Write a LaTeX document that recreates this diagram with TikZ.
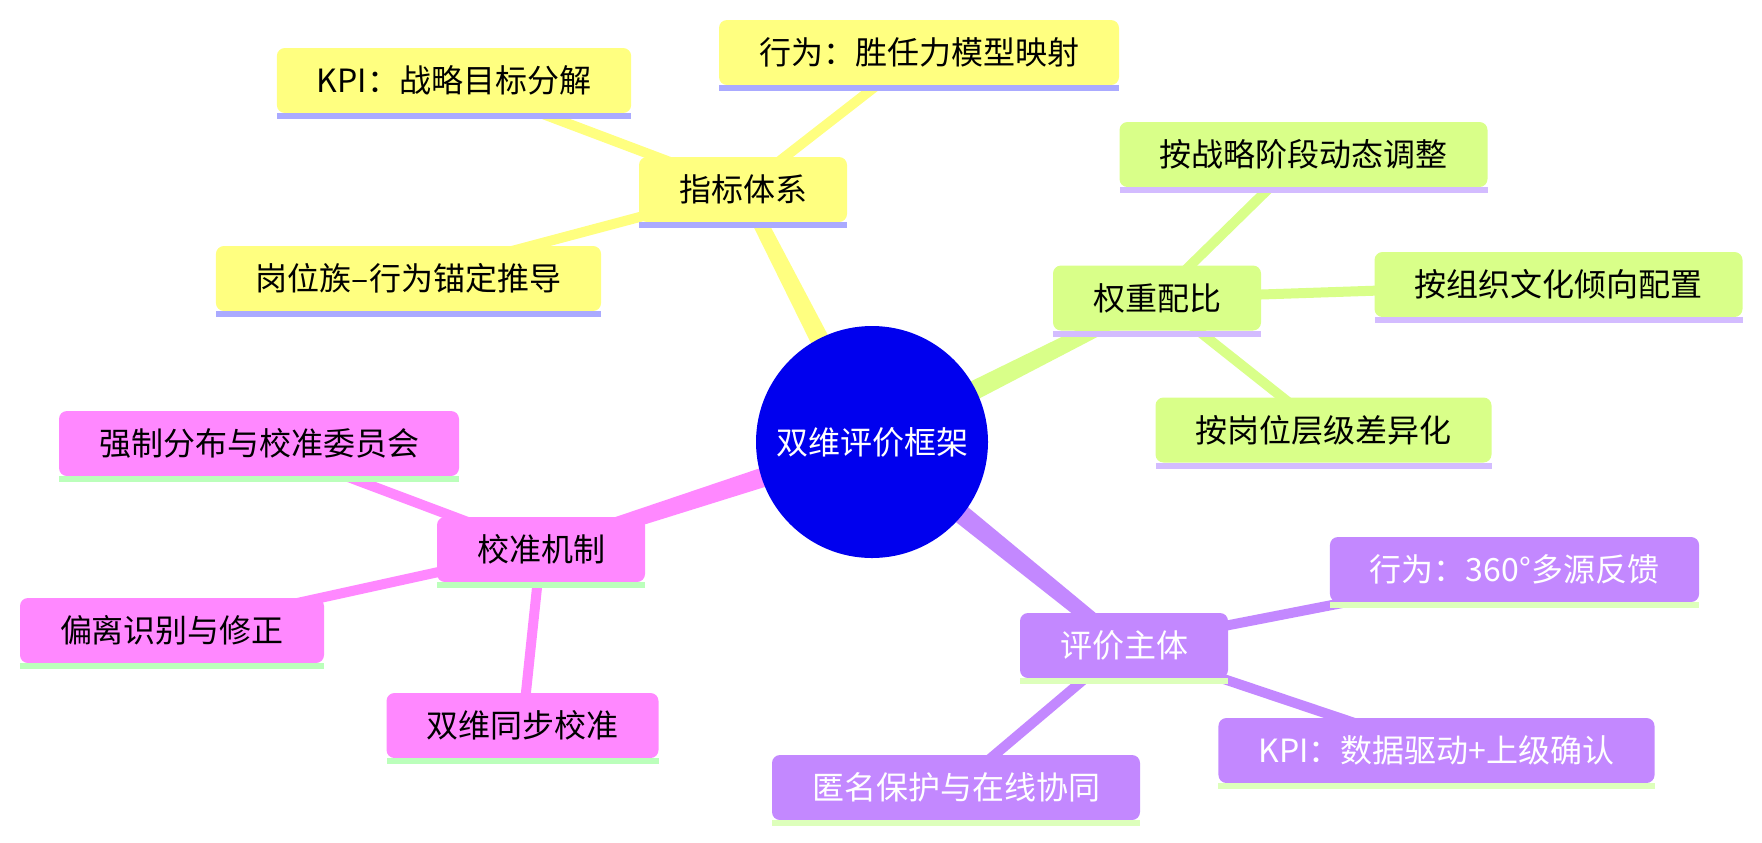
\documentclass[tikz,border=0pt]{standalone}
\usepackage{fontspec}
\setmainfont{Noto Sans CJK SC}
\usetikzlibrary{calc}
\pgfdeclarelayer{bg}
\pgfsetlayers{bg,main}
\definecolor{yelbox}{HTML}{FFFF80}
\definecolor{yelbar}{HTML}{AAAAFF}
\definecolor{grnbox}{HTML}{D9FF89}
\definecolor{grnbar}{HTML}{D3BCFF}
\definecolor{pnkbox}{HTML}{FF88FF}
\definecolor{pnkbar}{HTML}{BBFFBB}
\definecolor{purbox}{HTML}{C388FF}
\definecolor{purbar}{HTML}{DDFFBB}
\definecolor{rootblue}{HTML}{0000EE}
\newcommand\taperline[3]{%
  \fill[#3] ($(#1.center)!5.5pt!90:(#2.center)$) -- ($(#2.center)!3.5pt!-90:(#1.center)$)
    -- ($(#2.center)!3.5pt!90:(#1.center)$) -- ($(#1.center)!5.5pt!-90:(#2.center)$) -- cycle;}
\newcommand\barunder[2]{%
  \fill[#2] (#1.south west) rectangle ([yshift=-3pt]#1.south east);}
\begin{document}
\begin{tikzpicture}[x=0.5pt,y=-0.5pt,
  box/.style={rounded corners=4pt, inner xsep=20pt, inner ysep=0pt,
    minimum height=32.5pt, outer sep=0pt, draw=none,
    font=\fontsize{16pt}{19pt}\selectfont},
  ybox/.style={box, fill=yelbox, text=black},
  gbox/.style={box, fill=grnbox, text=black},
  pbox/.style={box, fill=pnkbox, text=black},
  vbox/.style={box, fill=purbox, text=white},
  sub/.style={line width=5pt}]
\useasboundingbox (0,0) rectangle (1762,842);

\node[circle, fill=rootblue, minimum size=116pt, inner sep=0pt, text=white,
  font=\fontsize{16pt}{19pt}\selectfont] (root) at (872,442) {双维评价框架};

\node[ybox] (y1) at (743,189.5) {指标体系};
\node[ybox] (y2) at (454,80.5) {KPI：战略目标分解};
\node[ybox] (y3) at (919,52.5) {行为：胜任力模型映射};
\node[ybox] (y4) at (408.5,278.5) {岗位族–行为锚定推导};

\node[gbox] (g1) at (1157,298) {权重配比};
\node[gbox] (g2) at (1303.5,154.5) {按战略阶段动态调整};
\node[gbox] (g3) at (1558.5,284.5) {按组织文化倾向配置};
\node[gbox] (g4) at (1323.5,430) {按岗位层级差异化};

\node[pbox] (p1) at (541,549.5) {校准机制};
\node[pbox] (p2) at (259,443.5) {强制分布与校准委员会};
\node[pbox] (p3) at (172,630.5) {偏离识别与修正};
\node[pbox] (p4) at (522.5,725.5) {双维同步校准};

\node[vbox] (v1) at (1124,645.5) {评价主体};
\node[vbox] (v2) at (1514.5,569.5) {行为：360°多源反馈};
\node[vbox] (v3) at (1436.5,750.5) {KPI：数据驱动+上级确认};
\node[vbox] (v4) at (956,787.5) {匿名保护与在线协同};

\foreach \n in {y1,y2,y3,y4} {\barunder{\n}{yelbar}}
\foreach \n in {g1,g2,g3,g4} {\barunder{\n}{grnbar}}
\foreach \n in {p1,p2,p3,p4} {\barunder{\n}{pnkbar}}
\foreach \n in {v1,v2,v3,v4} {\barunder{\n}{purbar}}

\begin{pgfonlayer}{bg}
  \taperline{root}{y1}{yelbox}
  \taperline{root}{g1}{grnbox}
  \taperline{root}{p1}{pnkbox}
  \taperline{root}{v1}{purbox}
  \foreach \c in {y2,y3,y4} {\draw[sub, yelbox] (y1.center) -- (\c.center);}
  \foreach \c in {g2,g3,g4} {\draw[sub, grnbox] (g1.center) -- (\c.center);}
  \foreach \c in {p2,p3,p4} {\draw[sub, pnkbox] (p1.center) -- (\c.center);}
  \foreach \c in {v2,v3,v4} {\draw[sub, purbox] (v1.center) -- (\c.center);}
\end{pgfonlayer}
\end{tikzpicture}
\end{document}
